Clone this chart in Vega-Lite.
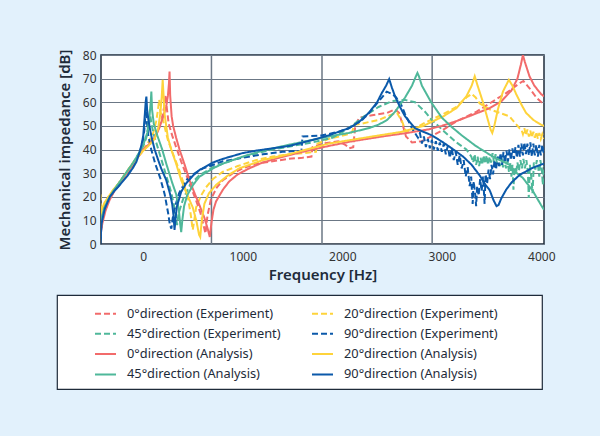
{
  "$schema": "https://vega.github.io/schema/vega-lite/v6.json",
  "autosize": {"type": "none"},
  "padding": {"left": 101, "top": 55, "right": 56, "bottom": 192},
  "width": 443,
  "height": 189,
  "background": "#e2f1fc",
  "config": {
    "font": "Noto Sans",
    "view": {"stroke": "#1e2b3a", "strokeWidth": 1.5, "fill": "white"},
    "axis": {"labelFont": "Noto Sans", "labelFontSize": 12, "labelColor": "#333333", "titleFont": "Noto Sans", "titleFontSize": 15, "titleFontWeight": 600, "titleColor": "#1e2b3a", "domain": false, "ticks": false, "labelFlush": false},
    "legend": {
      "orient": "none", "legendX": -44, "legendY": 240, "columns": 2,
      "fillColor": "white", "strokeColor": "#1e2b3a", "strokeWidth": 1.2,
      "padding": 7, "symbolType": "stroke", "symbolSize": 441, "symbolStrokeWidth": 2,
      "symbolOffset": 30, "labelOffset": 10, "columnPadding": 0, "rowPadding": 1.3,
      "labelFont": "Noto Sans", "labelFontSize": 12.8, "labelColor": "#1e2b3a", "labelLimit": 400
    }
  },
  "encoding": {
    "x": {"field": "f", "type": "quantitative", "scale": {"domain": [-425, 4027], "nice": false, "zero": false},
      "axis": {"values": [0, 1000, 2000, 3000, 4000], "format": "d", "grid": false, "labelPadding": 7, "title": "Frequency [Hz]", "titlePadding": 5}}
  },
  "layer": [
    {
      "data": {"values": [{"f": 685}, {"f": 1796}, {"f": 2903}]},
      "mark": {"type": "rule", "color": "#6b7785", "strokeWidth": 1.5},
      "encoding": {}
    },
    {
      "data": {"values": [
{"s":"0°direction (Experiment)","f":-430,"d":3},{"s":"0°direction (Experiment)","f":-415,"d":9},{"s":"0°direction (Experiment)","f":-390,"d":14},{"s":"0°direction (Experiment)","f":-350,"d":18.5},{"s":"0°direction (Experiment)","f":-300,"d":22},{"s":"0°direction (Experiment)","f":-250,"d":25},{"s":"0°direction (Experiment)","f":-200,"d":28},{"s":"0°direction (Experiment)","f":-150,"d":31},{"s":"0°direction (Experiment)","f":-100,"d":34},{"s":"0°direction (Experiment)","f":-50,"d":37},{"s":"0°direction (Experiment)","f":0,"d":39.5},{"s":"0°direction (Experiment)","f":50,"d":42},{"s":"0°direction (Experiment)","f":100,"d":44.5},{"s":"0°direction (Experiment)","f":150,"d":48},{"s":"0°direction (Experiment)","f":185,"d":53},{"s":"0°direction (Experiment)","f":210,"d":58},{"s":"0°direction (Experiment)","f":225,"d":63},{"s":"0°direction (Experiment)","f":235,"d":58},{"s":"0°direction (Experiment)","f":255,"d":51},{"s":"0°direction (Experiment)","f":290,"d":46},{"s":"0°direction (Experiment)","f":330,"d":41},{"s":"0°direction (Experiment)","f":380,"d":35},{"s":"0°direction (Experiment)","f":430,"d":29.5},{"s":"0°direction (Experiment)","f":480,"d":24},{"s":"0°direction (Experiment)","f":530,"d":18.5},{"s":"0°direction (Experiment)","f":575,"d":13},{"s":"0°direction (Experiment)","f":605,"d":8},{"s":"0°direction (Experiment)","f":625,"d":4.5},{"s":"0°direction (Experiment)","f":645,"d":12},{"s":"0°direction (Experiment)","f":680,"d":19},{"s":"0°direction (Experiment)","f":740,"d":24},{"s":"0°direction (Experiment)","f":800,"d":27},{"s":"0°direction (Experiment)","f":900,"d":30},{"s":"0°direction (Experiment)","f":1000,"d":32},{"s":"0°direction (Experiment)","f":1130,"d":34},{"s":"0°direction (Experiment)","f":1300,"d":35},{"s":"0°direction (Experiment)","f":1450,"d":36},{"s":"0°direction (Experiment)","f":1600,"d":36.5},{"s":"0°direction (Experiment)","f":1690,"d":37},{"s":"0°direction (Experiment)","f":1700,"d":41},{"s":"0°direction (Experiment)","f":1800,"d":42.5},{"s":"0°direction (Experiment)","f":1960,"d":43.5},{"s":"0°direction (Experiment)","f":2030,"d":42},{"s":"0°direction (Experiment)","f":2070,"d":40.5},{"s":"0°direction (Experiment)","f":2110,"d":41},{"s":"0°direction (Experiment)","f":2130,"d":50},{"s":"0°direction (Experiment)","f":2170,"d":53.5},{"s":"0°direction (Experiment)","f":2300,"d":54.5},{"s":"0°direction (Experiment)","f":2450,"d":55.5},{"s":"0°direction (Experiment)","f":2530,"d":57},{"s":"0°direction (Experiment)","f":2570,"d":55.5},{"s":"0°direction (Experiment)","f":2610,"d":50},{"s":"0°direction (Experiment)","f":2640,"d":45.5},{"s":"0°direction (Experiment)","f":2700,"d":43},{"s":"0°direction (Experiment)","f":2800,"d":43.5},{"s":"0°direction (Experiment)","f":2870,"d":45},{"s":"0°direction (Experiment)","f":3000,"d":48},{"s":"0°direction (Experiment)","f":3150,"d":52},{"s":"0°direction (Experiment)","f":3350,"d":56},{"s":"0°direction (Experiment)","f":3480,"d":59.5},{"s":"0°direction (Experiment)","f":3650,"d":64},{"s":"0°direction (Experiment)","f":3780,"d":68},{"s":"0°direction (Experiment)","f":3820,"d":69},{"s":"0°direction (Experiment)","f":3880,"d":66},{"s":"0°direction (Experiment)","f":3950,"d":62},{"s":"0°direction (Experiment)","f":4027,"d":59},

{"s":"20°direction (Experiment)","f":-430,"d":21},{"s":"20°direction (Experiment)","f":-428,"d":16},{"s":"20°direction (Experiment)","f":-410,"d":14},{"s":"20°direction (Experiment)","f":-385,"d":17},{"s":"20°direction (Experiment)","f":-350,"d":20},{"s":"20°direction (Experiment)","f":-300,"d":23},{"s":"20°direction (Experiment)","f":-250,"d":25.5},{"s":"20°direction (Experiment)","f":-200,"d":28.5},{"s":"20°direction (Experiment)","f":-150,"d":31.5},{"s":"20°direction (Experiment)","f":-100,"d":34.5},{"s":"20°direction (Experiment)","f":-50,"d":37.5},{"s":"20°direction (Experiment)","f":0,"d":40},{"s":"20°direction (Experiment)","f":50,"d":43},{"s":"20°direction (Experiment)","f":100,"d":47},{"s":"20°direction (Experiment)","f":130,"d":52},{"s":"20°direction (Experiment)","f":148,"d":57},{"s":"20°direction (Experiment)","f":160,"d":61},{"s":"20°direction (Experiment)","f":172,"d":56},{"s":"20°direction (Experiment)","f":200,"d":52},{"s":"20°direction (Experiment)","f":247,"d":44},{"s":"20°direction (Experiment)","f":300,"d":38},{"s":"20°direction (Experiment)","f":364,"d":31},{"s":"20°direction (Experiment)","f":410,"d":25},{"s":"20°direction (Experiment)","f":447,"d":20},{"s":"20°direction (Experiment)","f":475,"d":13},{"s":"20°direction (Experiment)","f":497,"d":6},{"s":"20°direction (Experiment)","f":512,"d":10},{"s":"20°direction (Experiment)","f":531,"d":15.5},{"s":"20°direction (Experiment)","f":580,"d":20.5},{"s":"20°direction (Experiment)","f":631,"d":24},{"s":"20°direction (Experiment)","f":700,"d":27.5},{"s":"20°direction (Experiment)","f":797,"d":30.5},{"s":"20°direction (Experiment)","f":950,"d":33},{"s":"20°direction (Experiment)","f":1130,"d":35.5},{"s":"20°direction (Experiment)","f":1300,"d":37},{"s":"20°direction (Experiment)","f":1464,"d":38},{"s":"20°direction (Experiment)","f":1614,"d":38.5},{"s":"20°direction (Experiment)","f":1735,"d":39},{"s":"20°direction (Experiment)","f":1750,"d":42.5},{"s":"20°direction (Experiment)","f":1864,"d":44.5},{"s":"20°direction (Experiment)","f":2064,"d":46.5},{"s":"20°direction (Experiment)","f":2100,"d":47.5},{"s":"20°direction (Experiment)","f":2120,"d":50.5},{"s":"20°direction (Experiment)","f":2200,"d":51},{"s":"20°direction (Experiment)","f":2364,"d":52.5},{"s":"20°direction (Experiment)","f":2480,"d":54.5},{"s":"20°direction (Experiment)","f":2550,"d":55.5},{"s":"20°direction (Experiment)","f":2600,"d":52},{"s":"20°direction (Experiment)","f":2640,"d":47.5},{"s":"20°direction (Experiment)","f":2700,"d":48},{"s":"20°direction (Experiment)","f":2814,"d":51},{"s":"20°direction (Experiment)","f":3014,"d":55},{"s":"20°direction (Experiment)","f":3147,"d":58},{"s":"20°direction (Experiment)","f":3247,"d":62},{"s":"20°direction (Experiment)","f":3300,"d":63.5},{"s":"20°direction (Experiment)","f":3340,"d":62},{"s":"20°direction (Experiment)","f":3381,"d":59.5},{"s":"20°direction (Experiment)","f":3480,"d":57},{"s":"20°direction (Experiment)","f":3581,"d":55.5},{"s":"20°direction (Experiment)","f":3681,"d":54},{"s":"20°direction (Experiment)","f":3740,"d":51},{"s":"20°direction (Experiment)","f":3781,"d":49},{"s":"20°direction (Experiment)","f":3800,"d":48.5},{"s":"20°direction (Experiment)","f":3815,"d":46.5},{"s":"20°direction (Experiment)","f":3830,"d":49},{"s":"20°direction (Experiment)","f":3845,"d":46},{"s":"20°direction (Experiment)","f":3860,"d":48.5},{"s":"20°direction (Experiment)","f":3875,"d":45.5},{"s":"20°direction (Experiment)","f":3890,"d":48},{"s":"20°direction (Experiment)","f":3905,"d":45},{"s":"20°direction (Experiment)","f":3920,"d":47.5},{"s":"20°direction (Experiment)","f":3935,"d":45},{"s":"20°direction (Experiment)","f":3950,"d":47.5},{"s":"20°direction (Experiment)","f":3965,"d":44.5},{"s":"20°direction (Experiment)","f":3980,"d":47},{"s":"20°direction (Experiment)","f":3995,"d":44.5},{"s":"20°direction (Experiment)","f":4010,"d":46.5},{"s":"20°direction (Experiment)","f":4027,"d":44.5},

{"s":"45°direction (Experiment)","f":-430,"d":7},{"s":"45°direction (Experiment)","f":-415,"d":12},{"s":"45°direction (Experiment)","f":-390,"d":15.5},{"s":"45°direction (Experiment)","f":-350,"d":19},{"s":"45°direction (Experiment)","f":-300,"d":22.5},{"s":"45°direction (Experiment)","f":-250,"d":25.5},{"s":"45°direction (Experiment)","f":-200,"d":28.5},{"s":"45°direction (Experiment)","f":-150,"d":31.5},{"s":"45°direction (Experiment)","f":-100,"d":34.5},{"s":"45°direction (Experiment)","f":-50,"d":38},{"s":"45°direction (Experiment)","f":0,"d":41.5},{"s":"45°direction (Experiment)","f":30,"d":45},{"s":"45°direction (Experiment)","f":55,"d":50},{"s":"45°direction (Experiment)","f":70,"d":54.5},{"s":"45°direction (Experiment)","f":82,"d":51},{"s":"45°direction (Experiment)","f":100,"d":47},{"s":"45°direction (Experiment)","f":130,"d":43},{"s":"45°direction (Experiment)","f":180,"d":36},{"s":"45°direction (Experiment)","f":230,"d":29},{"s":"45°direction (Experiment)","f":280,"d":22},{"s":"45°direction (Experiment)","f":315,"d":15},{"s":"45°direction (Experiment)","f":340,"d":8},{"s":"45°direction (Experiment)","f":355,"d":13},{"s":"45°direction (Experiment)","f":400,"d":19},{"s":"45°direction (Experiment)","f":470,"d":25},{"s":"45°direction (Experiment)","f":560,"d":29},{"s":"45°direction (Experiment)","f":700,"d":32.5},{"s":"45°direction (Experiment)","f":900,"d":35.5},{"s":"45°direction (Experiment)","f":1100,"d":38},{"s":"45°direction (Experiment)","f":1300,"d":40},{"s":"45°direction (Experiment)","f":1500,"d":41.5},{"s":"45°direction (Experiment)","f":1700,"d":43},{"s":"45°direction (Experiment)","f":1900,"d":45},{"s":"45°direction (Experiment)","f":2064,"d":49},{"s":"45°direction (Experiment)","f":2200,"d":53.5},{"s":"45°direction (Experiment)","f":2364,"d":58},{"s":"45°direction (Experiment)","f":2500,"d":60.5},{"s":"45°direction (Experiment)","f":2631,"d":61},{"s":"45°direction (Experiment)","f":2731,"d":60},{"s":"45°direction (Experiment)","f":2831,"d":56},{"s":"45°direction (Experiment)","f":2900,"d":52.5},{"s":"45°direction (Experiment)","f":3014,"d":48},{"s":"45°direction (Experiment)","f":3147,"d":43},{"s":"45°direction (Experiment)","f":3247,"d":40},{"s":"45°direction (Experiment)","f":3297,"d":37},{"s":"45°direction (Experiment)","f":3315,"d":34.5},{"s":"45°direction (Experiment)","f":3330,"d":38},{"s":"45°direction (Experiment)","f":3345,"d":33.5},{"s":"45°direction (Experiment)","f":3360,"d":37},{"s":"45°direction (Experiment)","f":3375,"d":33},{"s":"45°direction (Experiment)","f":3390,"d":36.5},{"s":"45°direction (Experiment)","f":3405,"d":33.5},{"s":"45°direction (Experiment)","f":3420,"d":37.5},{"s":"45°direction (Experiment)","f":3435,"d":34},{"s":"45°direction (Experiment)","f":3450,"d":37.5},{"s":"45°direction (Experiment)","f":3465,"d":33.5},{"s":"45°direction (Experiment)","f":3480,"d":37},{"s":"45°direction (Experiment)","f":3495,"d":34.5},{"s":"45°direction (Experiment)","f":3510,"d":38.5},{"s":"45°direction (Experiment)","f":3525,"d":34.5},{"s":"45°direction (Experiment)","f":3540,"d":38},{"s":"45°direction (Experiment)","f":3555,"d":34},{"s":"45°direction (Experiment)","f":3570,"d":37},{"s":"45°direction (Experiment)","f":3585,"d":33},{"s":"45°direction (Experiment)","f":3600,"d":36.5},{"s":"45°direction (Experiment)","f":3615,"d":32.5},{"s":"45°direction (Experiment)","f":3630,"d":36},{"s":"45°direction (Experiment)","f":3645,"d":32},{"s":"45°direction (Experiment)","f":3660,"d":35.5},{"s":"45°direction (Experiment)","f":3675,"d":30.5},{"s":"45°direction (Experiment)","f":3690,"d":34.5},{"s":"45°direction (Experiment)","f":3700,"d":28.5},{"s":"45°direction (Experiment)","f":3710,"d":33.5},{"s":"45°direction (Experiment)","f":3720,"d":23},{"s":"45°direction (Experiment)","f":3730,"d":32.5},{"s":"45°direction (Experiment)","f":3745,"d":29.5},{"s":"45°direction (Experiment)","f":3760,"d":34.5},{"s":"45°direction (Experiment)","f":3775,"d":31},{"s":"45°direction (Experiment)","f":3790,"d":35.5},{"s":"45°direction (Experiment)","f":3805,"d":32},{"s":"45°direction (Experiment)","f":3820,"d":36},{"s":"45°direction (Experiment)","f":3835,"d":32},{"s":"45°direction (Experiment)","f":3850,"d":35.5},{"s":"45°direction (Experiment)","f":3865,"d":30.5},{"s":"45°direction (Experiment)","f":3874,"d":19.5},{"s":"45°direction (Experiment)","f":3885,"d":33.5},{"s":"45°direction (Experiment)","f":3900,"d":28},{"s":"45°direction (Experiment)","f":3912,"d":21.5},{"s":"45°direction (Experiment)","f":3925,"d":34.5},{"s":"45°direction (Experiment)","f":3940,"d":31.5},{"s":"45°direction (Experiment)","f":3955,"d":35.5},{"s":"45°direction (Experiment)","f":3970,"d":32},{"s":"45°direction (Experiment)","f":3980,"d":28.5},{"s":"45°direction (Experiment)","f":3990,"d":35.5},{"s":"45°direction (Experiment)","f":4005,"d":32},{"s":"45°direction (Experiment)","f":4015,"d":25},{"s":"45°direction (Experiment)","f":4027,"d":33},

{"s":"90°direction (Experiment)","f":-430,"d":2},{"s":"90°direction (Experiment)","f":-418,"d":10},{"s":"90°direction (Experiment)","f":-395,"d":14},{"s":"90°direction (Experiment)","f":-350,"d":18.5},{"s":"90°direction (Experiment)","f":-300,"d":22},{"s":"90°direction (Experiment)","f":-250,"d":24.5},{"s":"90°direction (Experiment)","f":-200,"d":27.5},{"s":"90°direction (Experiment)","f":-150,"d":30.5},{"s":"90°direction (Experiment)","f":-100,"d":33.5},{"s":"90°direction (Experiment)","f":-50,"d":37.5},{"s":"90°direction (Experiment)","f":-10,"d":42},{"s":"90°direction (Experiment)","f":10,"d":48},{"s":"90°direction (Experiment)","f":20,"d":54},{"s":"90°direction (Experiment)","f":26,"d":57},{"s":"90°direction (Experiment)","f":33,"d":53},{"s":"90°direction (Experiment)","f":50,"d":46},{"s":"90°direction (Experiment)","f":80,"d":40},{"s":"90°direction (Experiment)","f":120,"d":34},{"s":"90°direction (Experiment)","f":170,"d":28},{"s":"90°direction (Experiment)","f":215,"d":21},{"s":"90°direction (Experiment)","f":250,"d":13},{"s":"90°direction (Experiment)","f":268,"d":8},{"s":"90°direction (Experiment)","f":282,"d":6.5},{"s":"90°direction (Experiment)","f":296,"d":11},{"s":"90°direction (Experiment)","f":320,"d":16},{"s":"90°direction (Experiment)","f":360,"d":21.5},{"s":"90°direction (Experiment)","f":431,"d":27},{"s":"90°direction (Experiment)","f":500,"d":29.5},{"s":"90°direction (Experiment)","f":600,"d":32},{"s":"90°direction (Experiment)","f":800,"d":35},{"s":"90°direction (Experiment)","f":1000,"d":36.5},{"s":"90°direction (Experiment)","f":1200,"d":38},{"s":"90°direction (Experiment)","f":1400,"d":39},{"s":"90°direction (Experiment)","f":1590,"d":39.5},{"s":"90°direction (Experiment)","f":1600,"d":45.5},{"s":"90°direction (Experiment)","f":1800,"d":46},{"s":"90°direction (Experiment)","f":1964,"d":47.5},{"s":"90°direction (Experiment)","f":2064,"d":49},{"s":"90°direction (Experiment)","f":2200,"d":52.5},{"s":"90°direction (Experiment)","f":2300,"d":57},{"s":"90°direction (Experiment)","f":2397,"d":62},{"s":"90°direction (Experiment)","f":2447,"d":64.5},{"s":"90°direction (Experiment)","f":2500,"d":63.5},{"s":"90°direction (Experiment)","f":2531,"d":62.5},{"s":"90°direction (Experiment)","f":2581,"d":60},{"s":"90°direction (Experiment)","f":2631,"d":55},{"s":"90°direction (Experiment)","f":2700,"d":49},{"s":"90°direction (Experiment)","f":2760,"d":45},{"s":"90°direction (Experiment)","f":2780,"d":47},{"s":"90°direction (Experiment)","f":2800,"d":42.5},{"s":"90°direction (Experiment)","f":2820,"d":45.5},{"s":"90°direction (Experiment)","f":2840,"d":41},{"s":"90°direction (Experiment)","f":2860,"d":44.5},{"s":"90°direction (Experiment)","f":2880,"d":40.5},{"s":"90°direction (Experiment)","f":2900,"d":44},{"s":"90°direction (Experiment)","f":2920,"d":40},{"s":"90°direction (Experiment)","f":2940,"d":43.5},{"s":"90°direction (Experiment)","f":2960,"d":39.5},{"s":"90°direction (Experiment)","f":2980,"d":43},{"s":"90°direction (Experiment)","f":3000,"d":39},{"s":"90°direction (Experiment)","f":3020,"d":42.5},{"s":"90°direction (Experiment)","f":3040,"d":38},{"s":"90°direction (Experiment)","f":3060,"d":41.5},{"s":"90°direction (Experiment)","f":3080,"d":36.5},{"s":"90°direction (Experiment)","f":3100,"d":40.5},{"s":"90°direction (Experiment)","f":3120,"d":35.5},{"s":"90°direction (Experiment)","f":3140,"d":39},{"s":"90°direction (Experiment)","f":3160,"d":33.5},{"s":"90°direction (Experiment)","f":3180,"d":37.5},{"s":"90°direction (Experiment)","f":3200,"d":32},{"s":"90°direction (Experiment)","f":3220,"d":35.5},{"s":"90°direction (Experiment)","f":3240,"d":28.5},{"s":"90°direction (Experiment)","f":3260,"d":32.5},{"s":"90°direction (Experiment)","f":3280,"d":24.5},{"s":"90°direction (Experiment)","f":3295,"d":28.5},{"s":"90°direction (Experiment)","f":3310,"d":17},{"s":"90°direction (Experiment)","f":3320,"d":26.5},{"s":"90°direction (Experiment)","f":3335,"d":21.5},{"s":"90°direction (Experiment)","f":3345,"d":16},{"s":"90°direction (Experiment)","f":3355,"d":24.5},{"s":"90°direction (Experiment)","f":3370,"d":20.5},{"s":"90°direction (Experiment)","f":3385,"d":27.5},{"s":"90°direction (Experiment)","f":3400,"d":22.5},{"s":"90°direction (Experiment)","f":3415,"d":28.5},{"s":"90°direction (Experiment)","f":3430,"d":17},{"s":"90°direction (Experiment)","f":3440,"d":29.5},{"s":"90°direction (Experiment)","f":3455,"d":25.5},{"s":"90°direction (Experiment)","f":3470,"d":31.5},{"s":"90°direction (Experiment)","f":3485,"d":27.5},{"s":"90°direction (Experiment)","f":3500,"d":33.5},{"s":"90°direction (Experiment)","f":3515,"d":29.5},{"s":"90°direction (Experiment)","f":3530,"d":35.5},{"s":"90°direction (Experiment)","f":3545,"d":31.5},{"s":"90°direction (Experiment)","f":3560,"d":37},{"s":"90°direction (Experiment)","f":3575,"d":33},{"s":"90°direction (Experiment)","f":3590,"d":38.5},{"s":"90°direction (Experiment)","f":3605,"d":33.5},{"s":"90°direction (Experiment)","f":3620,"d":39},{"s":"90°direction (Experiment)","f":3635,"d":34.5},{"s":"90°direction (Experiment)","f":3650,"d":39.5},{"s":"90°direction (Experiment)","f":3665,"d":35},{"s":"90°direction (Experiment)","f":3680,"d":40},{"s":"90°direction (Experiment)","f":3695,"d":35.5},{"s":"90°direction (Experiment)","f":3710,"d":40.5},{"s":"90°direction (Experiment)","f":3725,"d":36},{"s":"90°direction (Experiment)","f":3740,"d":41},{"s":"90°direction (Experiment)","f":3755,"d":36.5},{"s":"90°direction (Experiment)","f":3770,"d":42},{"s":"90°direction (Experiment)","f":3785,"d":37},{"s":"90°direction (Experiment)","f":3800,"d":42.5},{"s":"90°direction (Experiment)","f":3815,"d":37.5},{"s":"90°direction (Experiment)","f":3830,"d":43},{"s":"90°direction (Experiment)","f":3845,"d":38},{"s":"90°direction (Experiment)","f":3860,"d":42.5},{"s":"90°direction (Experiment)","f":3875,"d":37.5},{"s":"90°direction (Experiment)","f":3890,"d":43},{"s":"90°direction (Experiment)","f":3905,"d":37},{"s":"90°direction (Experiment)","f":3920,"d":42.5},{"s":"90°direction (Experiment)","f":3935,"d":37.5},{"s":"90°direction (Experiment)","f":3950,"d":42},{"s":"90°direction (Experiment)","f":3965,"d":37},{"s":"90°direction (Experiment)","f":3980,"d":42},{"s":"90°direction (Experiment)","f":3995,"d":37.5},{"s":"90°direction (Experiment)","f":4010,"d":42},{"s":"90°direction (Experiment)","f":4027,"d":38},

{"s":"0°direction (Analysis)","f":-430,"d":4},{"s":"0°direction (Analysis)","f":-410,"d":9},{"s":"0°direction (Analysis)","f":-380,"d":14},{"s":"0°direction (Analysis)","f":-340,"d":18.5},{"s":"0°direction (Analysis)","f":-290,"d":22.5},{"s":"0°direction (Analysis)","f":-240,"d":25.5},{"s":"0°direction (Analysis)","f":-190,"d":28.5},{"s":"0°direction (Analysis)","f":-140,"d":31.5},{"s":"0°direction (Analysis)","f":-90,"d":34.5},{"s":"0°direction (Analysis)","f":-36,"d":38},{"s":"0°direction (Analysis)","f":0,"d":40},{"s":"0°direction (Analysis)","f":64,"d":42.5},{"s":"0°direction (Analysis)","f":114,"d":45},{"s":"0°direction (Analysis)","f":160,"d":49},{"s":"0°direction (Analysis)","f":200,"d":54},{"s":"0°direction (Analysis)","f":230,"d":58},{"s":"0°direction (Analysis)","f":248,"d":63},{"s":"0°direction (Analysis)","f":258,"d":68},{"s":"0°direction (Analysis)","f":264,"d":73},{"s":"0°direction (Analysis)","f":270,"d":63},{"s":"0°direction (Analysis)","f":285,"d":54},{"s":"0°direction (Analysis)","f":300,"d":50},{"s":"0°direction (Analysis)","f":330,"d":45},{"s":"0°direction (Analysis)","f":364,"d":40},{"s":"0°direction (Analysis)","f":420,"d":33},{"s":"0°direction (Analysis)","f":464,"d":27},{"s":"0°direction (Analysis)","f":520,"d":21},{"s":"0°direction (Analysis)","f":564,"d":16.5},{"s":"0°direction (Analysis)","f":615,"d":11},{"s":"0°direction (Analysis)","f":650,"d":6},{"s":"0°direction (Analysis)","f":668,"d":3},{"s":"0°direction (Analysis)","f":685,"d":9},{"s":"0°direction (Analysis)","f":705,"d":14.5},{"s":"0°direction (Analysis)","f":731,"d":18},{"s":"0°direction (Analysis)","f":800,"d":23},{"s":"0°direction (Analysis)","f":864,"d":26.5},{"s":"0°direction (Analysis)","f":950,"d":29.5},{"s":"0°direction (Analysis)","f":1064,"d":32},{"s":"0°direction (Analysis)","f":1200,"d":34.5},{"s":"0°direction (Analysis)","f":1364,"d":36.5},{"s":"0°direction (Analysis)","f":1600,"d":39},{"s":"0°direction (Analysis)","f":1864,"d":41.5},{"s":"0°direction (Analysis)","f":2100,"d":43.5},{"s":"0°direction (Analysis)","f":2400,"d":45.5},{"s":"0°direction (Analysis)","f":2650,"d":47},{"s":"0°direction (Analysis)","f":2864,"d":48.5},{"s":"0°direction (Analysis)","f":3000,"d":50},{"s":"0°direction (Analysis)","f":3147,"d":52},{"s":"0°direction (Analysis)","f":3300,"d":54.5},{"s":"0°direction (Analysis)","f":3481,"d":57.5},{"s":"0°direction (Analysis)","f":3600,"d":60.5},{"s":"0°direction (Analysis)","f":3700,"d":65},{"s":"0°direction (Analysis)","f":3760,"d":70},{"s":"0°direction (Analysis)","f":3795,"d":76},{"s":"0°direction (Analysis)","f":3815,"d":80},{"s":"0°direction (Analysis)","f":3835,"d":77},{"s":"0°direction (Analysis)","f":3881,"d":71},{"s":"0°direction (Analysis)","f":3930,"d":67},{"s":"0°direction (Analysis)","f":3997,"d":63.5},{"s":"0°direction (Analysis)","f":4027,"d":62.5},

{"s":"20°direction (Analysis)","f":-430,"d":12},{"s":"20°direction (Analysis)","f":-415,"d":15},{"s":"20°direction (Analysis)","f":-390,"d":17.5},{"s":"20°direction (Analysis)","f":-350,"d":20},{"s":"20°direction (Analysis)","f":-300,"d":23},{"s":"20°direction (Analysis)","f":-250,"d":25.5},{"s":"20°direction (Analysis)","f":-200,"d":28.5},{"s":"20°direction (Analysis)","f":-150,"d":31.5},{"s":"20°direction (Analysis)","f":-100,"d":34.5},{"s":"20°direction (Analysis)","f":-50,"d":37},{"s":"20°direction (Analysis)","f":0,"d":39.5},{"s":"20°direction (Analysis)","f":50,"d":41.5},{"s":"20°direction (Analysis)","f":114,"d":44.5},{"s":"20°direction (Analysis)","f":150,"d":49},{"s":"20°direction (Analysis)","f":170,"d":55},{"s":"20°direction (Analysis)","f":185,"d":62},{"s":"20°direction (Analysis)","f":195,"d":69.5},{"s":"20°direction (Analysis)","f":205,"d":62},{"s":"20°direction (Analysis)","f":214,"d":55},{"s":"20°direction (Analysis)","f":247,"d":45},{"s":"20°direction (Analysis)","f":281,"d":40},{"s":"20°direction (Analysis)","f":330,"d":34},{"s":"20°direction (Analysis)","f":381,"d":27},{"s":"20°direction (Analysis)","f":440,"d":21},{"s":"20°direction (Analysis)","f":497,"d":15.5},{"s":"20°direction (Analysis)","f":535,"d":9.5},{"s":"20°direction (Analysis)","f":560,"d":4},{"s":"20°direction (Analysis)","f":572,"d":3},{"s":"20°direction (Analysis)","f":588,"d":10},{"s":"20°direction (Analysis)","f":614,"d":17},{"s":"20°direction (Analysis)","f":660,"d":21.5},{"s":"20°direction (Analysis)","f":731,"d":25},{"s":"20°direction (Analysis)","f":850,"d":29},{"s":"20°direction (Analysis)","f":964,"d":32},{"s":"20°direction (Analysis)","f":1200,"d":35.5},{"s":"20°direction (Analysis)","f":1464,"d":38},{"s":"20°direction (Analysis)","f":1864,"d":42.5},{"s":"20°direction (Analysis)","f":2300,"d":45.5},{"s":"20°direction (Analysis)","f":2600,"d":47.5},{"s":"20°direction (Analysis)","f":2814,"d":50},{"s":"20°direction (Analysis)","f":3014,"d":54},{"s":"20°direction (Analysis)","f":3147,"d":57.5},{"s":"20°direction (Analysis)","f":3247,"d":62.5},{"s":"20°direction (Analysis)","f":3300,"d":67},{"s":"20°direction (Analysis)","f":3331,"d":71},{"s":"20°direction (Analysis)","f":3360,"d":67},{"s":"20°direction (Analysis)","f":3414,"d":60},{"s":"20°direction (Analysis)","f":3460,"d":53},{"s":"20°direction (Analysis)","f":3490,"d":48.5},{"s":"20°direction (Analysis)","f":3507,"d":47},{"s":"20°direction (Analysis)","f":3525,"d":49.5},{"s":"20°direction (Analysis)","f":3564,"d":57},{"s":"20°direction (Analysis)","f":3614,"d":64.5},{"s":"20°direction (Analysis)","f":3674,"d":69.5},{"s":"20°direction (Analysis)","f":3710,"d":67},{"s":"20°direction (Analysis)","f":3747,"d":63.5},{"s":"20°direction (Analysis)","f":3800,"d":59},{"s":"20°direction (Analysis)","f":3847,"d":55.5},{"s":"20°direction (Analysis)","f":3920,"d":52.5},{"s":"20°direction (Analysis)","f":3997,"d":50.5},{"s":"20°direction (Analysis)","f":4027,"d":50},

{"s":"45°direction (Analysis)","f":-430,"d":5},{"s":"45°direction (Analysis)","f":-418,"d":11},{"s":"45°direction (Analysis)","f":-395,"d":15},{"s":"45°direction (Analysis)","f":-350,"d":19},{"s":"45°direction (Analysis)","f":-300,"d":22.5},{"s":"45°direction (Analysis)","f":-250,"d":25.5},{"s":"45°direction (Analysis)","f":-200,"d":28.5},{"s":"45°direction (Analysis)","f":-150,"d":31.5},{"s":"45°direction (Analysis)","f":-100,"d":34.5},{"s":"45°direction (Analysis)","f":-50,"d":38},{"s":"45°direction (Analysis)","f":0,"d":42},{"s":"45°direction (Analysis)","f":40,"d":47},{"s":"45°direction (Analysis)","f":62,"d":54},{"s":"45°direction (Analysis)","f":75,"d":60},{"s":"45°direction (Analysis)","f":81,"d":64.5},{"s":"45°direction (Analysis)","f":88,"d":57},{"s":"45°direction (Analysis)","f":105,"d":51},{"s":"45°direction (Analysis)","f":140,"d":46},{"s":"45°direction (Analysis)","f":190,"d":40},{"s":"45°direction (Analysis)","f":231,"d":34},{"s":"45°direction (Analysis)","f":290,"d":26},{"s":"45°direction (Analysis)","f":331,"d":21},{"s":"45°direction (Analysis)","f":358,"d":14},{"s":"45°direction (Analysis)","f":372,"d":8},{"s":"45°direction (Analysis)","f":381,"d":5},{"s":"45°direction (Analysis)","f":392,"d":10},{"s":"45°direction (Analysis)","f":410,"d":16},{"s":"45°direction (Analysis)","f":440,"d":20.5},{"s":"45°direction (Analysis)","f":500,"d":25},{"s":"45°direction (Analysis)","f":564,"d":28.5},{"s":"45°direction (Analysis)","f":700,"d":32},{"s":"45°direction (Analysis)","f":797,"d":34},{"s":"45°direction (Analysis)","f":1000,"d":37},{"s":"45°direction (Analysis)","f":1200,"d":39.5},{"s":"45°direction (Analysis)","f":1464,"d":42},{"s":"45°direction (Analysis)","f":1864,"d":45.5},{"s":"45°direction (Analysis)","f":2064,"d":47},{"s":"45°direction (Analysis)","f":2264,"d":49},{"s":"45°direction (Analysis)","f":2364,"d":50.5},{"s":"45°direction (Analysis)","f":2450,"d":52.5},{"s":"45°direction (Analysis)","f":2531,"d":56},{"s":"45°direction (Analysis)","f":2631,"d":62},{"s":"45°direction (Analysis)","f":2700,"d":67},{"s":"45°direction (Analysis)","f":2740,"d":71},{"s":"45°direction (Analysis)","f":2755,"d":72.4},{"s":"45°direction (Analysis)","f":2770,"d":71},{"s":"45°direction (Analysis)","f":2800,"d":67},{"s":"45°direction (Analysis)","f":2893,"d":60},{"s":"45°direction (Analysis)","f":3000,"d":53.5},{"s":"45°direction (Analysis)","f":3100,"d":49.5},{"s":"45°direction (Analysis)","f":3200,"d":46},{"s":"45°direction (Analysis)","f":3341,"d":41.5},{"s":"45°direction (Analysis)","f":3513,"d":37},{"s":"45°direction (Analysis)","f":3681,"d":33.5},{"s":"45°direction (Analysis)","f":3754,"d":30},{"s":"45°direction (Analysis)","f":3814,"d":28},{"s":"45°direction (Analysis)","f":3914,"d":22.5},{"s":"45°direction (Analysis)","f":3997,"d":16.5},{"s":"45°direction (Analysis)","f":4027,"d":14.5},

{"s":"90°direction (Analysis)","f":-432,"d":0},{"s":"90°direction (Analysis)","f":-419,"d":8.7},{"s":"90°direction (Analysis)","f":-400,"d":12.5},{"s":"90°direction (Analysis)","f":-386,"d":15},{"s":"90°direction (Analysis)","f":-336,"d":20},{"s":"90°direction (Analysis)","f":-290,"d":22.5},{"s":"90°direction (Analysis)","f":-253,"d":24.2},{"s":"90°direction (Analysis)","f":-200,"d":26.8},{"s":"90°direction (Analysis)","f":-153,"d":29.2},{"s":"90°direction (Analysis)","f":-100,"d":32.5},{"s":"90°direction (Analysis)","f":-69,"d":34.8},{"s":"90°direction (Analysis)","f":-36,"d":39},{"s":"90°direction (Analysis)","f":-15,"d":42.5},{"s":"90°direction (Analysis)","f":0,"d":46},{"s":"90°direction (Analysis)","f":14,"d":54},{"s":"90°direction (Analysis)","f":24,"d":60},{"s":"90°direction (Analysis)","f":31,"d":62.4},{"s":"90°direction (Analysis)","f":38,"d":57},{"s":"90°direction (Analysis)","f":50,"d":53},{"s":"90°direction (Analysis)","f":70,"d":48},{"s":"90°direction (Analysis)","f":90,"d":44},{"s":"90°direction (Analysis)","f":114,"d":40},{"s":"90°direction (Analysis)","f":150,"d":35.5},{"s":"90°direction (Analysis)","f":180,"d":32},{"s":"90°direction (Analysis)","f":231,"d":27},{"s":"90°direction (Analysis)","f":270,"d":21},{"s":"90°direction (Analysis)","f":290,"d":17},{"s":"90°direction (Analysis)","f":304,"d":12},{"s":"90°direction (Analysis)","f":314,"d":6},{"s":"90°direction (Analysis)","f":325,"d":11},{"s":"90°direction (Analysis)","f":337,"d":15.8},{"s":"90°direction (Analysis)","f":380,"d":22},{"s":"90°direction (Analysis)","f":431,"d":25.7},{"s":"90°direction (Analysis)","f":500,"d":29},{"s":"90°direction (Analysis)","f":564,"d":31.3},{"s":"90°direction (Analysis)","f":700,"d":34.5},{"s":"90°direction (Analysis)","f":797,"d":36},{"s":"90°direction (Analysis)","f":1000,"d":38.5},{"s":"90°direction (Analysis)","f":1131,"d":39.5},{"s":"90°direction (Analysis)","f":1300,"d":40.5},{"s":"90°direction (Analysis)","f":1464,"d":41.5},{"s":"90°direction (Analysis)","f":1700,"d":44},{"s":"90°direction (Analysis)","f":1864,"d":46},{"s":"90°direction (Analysis)","f":2064,"d":49},{"s":"90°direction (Analysis)","f":2164,"d":51.5},{"s":"90°direction (Analysis)","f":2264,"d":55.4},{"s":"90°direction (Analysis)","f":2350,"d":60},{"s":"90°direction (Analysis)","f":2397,"d":63.9},{"s":"90°direction (Analysis)","f":2440,"d":67},{"s":"90°direction (Analysis)","f":2471,"d":69.8},{"s":"90°direction (Analysis)","f":2500,"d":66},{"s":"90°direction (Analysis)","f":2531,"d":62.4},{"s":"90°direction (Analysis)","f":2580,"d":58},{"s":"90°direction (Analysis)","f":2631,"d":54},{"s":"90°direction (Analysis)","f":2731,"d":49},{"s":"90°direction (Analysis)","f":2814,"d":47.5},{"s":"90°direction (Analysis)","f":2900,"d":46},{"s":"90°direction (Analysis)","f":3014,"d":43},{"s":"90°direction (Analysis)","f":3100,"d":40.5},{"s":"90°direction (Analysis)","f":3214,"d":37},{"s":"90°direction (Analysis)","f":3300,"d":33.5},{"s":"90°direction (Analysis)","f":3381,"d":29},{"s":"90°direction (Analysis)","f":3440,"d":25},{"s":"90°direction (Analysis)","f":3481,"d":22.8},{"s":"90°direction (Analysis)","f":3520,"d":18.5},{"s":"90°direction (Analysis)","f":3550,"d":16},{"s":"90°direction (Analysis)","f":3570,"d":16.5},{"s":"90°direction (Analysis)","f":3600,"d":19.5},{"s":"90°direction (Analysis)","f":3647,"d":23},{"s":"90°direction (Analysis)","f":3700,"d":26},{"s":"90°direction (Analysis)","f":3781,"d":29.2},{"s":"90°direction (Analysis)","f":3900,"d":32},{"s":"90°direction (Analysis)","f":3997,"d":33.6},{"s":"90°direction (Analysis)","f":4027,"d":34}
      ]},
      "mark": {"type": "line", "strokeWidth": 2, "clip": true},
      "encoding": {
        "y": {"field": "d", "type": "quantitative", "scale": {"domain": [0, 80], "nice": false},
          "axis": {"values": [0, 10, 20, 30, 40, 50, 60, 70, 80], "grid": true, "gridColor": "#6b7785", "gridWidth": 1.2, "labelPadding": 5, "title": "Mechanical impedance [dB]", "titlePadding": 10}},
        "color": {"field": "s", "type": "nominal",
          "scale": {
            "domain": ["0°direction (Experiment)", "45°direction (Experiment)", "0°direction (Analysis)", "45°direction (Analysis)", "20°direction (Experiment)", "90°direction (Experiment)", "20°direction (Analysis)", "90°direction (Analysis)"],
            "range": ["#f26b6b", "#4fb89a", "#f26b6b", "#4fb89a", "#fed33b", "#0b59aa", "#fed33b", "#0b59aa"]},
          "legend": {"title": null, "labelExpr": "(indexof(datum.label,'0°')==0 ? '\u2007' : '') + datum.label + ((indexof(datum.label,'20°')==0 || indexof(datum.label,'90°')==0) ? '\u2007\u2007\u2007\u2007\u2007\u200b' : '')"}},
        "strokeDash": {"field": "s", "type": "nominal",
          "scale": {
            "domain": ["0°direction (Experiment)", "45°direction (Experiment)", "0°direction (Analysis)", "45°direction (Analysis)", "20°direction (Experiment)", "90°direction (Experiment)", "20°direction (Analysis)", "90°direction (Analysis)"],
            "range": [[6, 3], [6, 3], [1, 0], [1, 0], [6, 3], [6, 3], [1, 0], [1, 0]]},
          "legend": {"title": null, "labelExpr": "(indexof(datum.label,'0°')==0 ? '\u2007' : '') + datum.label + ((indexof(datum.label,'20°')==0 || indexof(datum.label,'90°')==0) ? '\u2007\u2007\u2007\u2007\u2007\u200b' : '')"}}
      }
    }
  ]
}
